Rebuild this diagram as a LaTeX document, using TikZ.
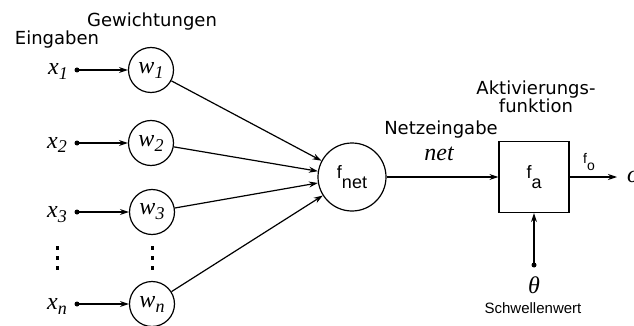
\documentclass[tikz,border=0pt]{standalone}
\usepackage{fontspec}
\setmainfont{DejaVu Sans}
\newfontfamily\serifit{Liberation Serif}
\newfontfamily\arialfont{Liberation Sans}
\usetikzlibrary{arrows.meta}

% italic serif symbol with lowered index
\newcommand{\symidx}[2]{{\serifit\itshape\fontsize{24}{24}\selectfont #1\raisebox{-5pt}{\fontsize{18}{18}\selectfont #2}}}

\begin{document}
\begin{tikzpicture}[x=1pt,y=-1pt]
        % Define styles
        \tikzset{
            weight/.style={circle, draw, line width=1.2pt, minimum size=45pt, inner sep=0pt},
            sumnode/.style={circle, draw, line width=1.2pt, minimum size=68pt, inner sep=0pt},
            actbox/.style={rectangle, draw, line width=1.2pt, minimum width=70pt, minimum height=71pt, inner sep=0pt},
            dot/.style={circle, fill, inner sep=0pt, minimum size=5pt},
            txt/.style={anchor=base, inner sep=0pt, font=\fontsize{18}{18}\selectfont},
            small/.style={anchor=base, inner sep=0pt, font=\arialfont\fontsize{15}{15}\selectfont},
            arrow/.style={->, >={Stealth[length=9pt,width=6pt]}, line width=1.2pt}
        }
        \useasboundingbox (0,0) rectangle (634,326);

        % Headings
        \node[txt] (inputs) at (57,45) {Eingaben};
        \node[txt] (weights) at (152,27) {Gewichtungen};

        % Inputs and weights
        \node[anchor=base, inner sep=0pt] (x1) at (58,75) {\symidx{x}{1}};
        \node[dot] (d1) at (77,70) {};
        \node[weight] (w1) at (151,70) {\symidx{w}{1}};

        \node[anchor=base, inner sep=0pt] (x2) at (57,148) {\symidx{x}{2}};
        \node[dot] (d2) at (77,143) {};
        \node[weight] (w2) at (151,143) {\symidx{w}{2}};

        \node[anchor=base, inner sep=0pt] (x3) at (57,217) {\symidx{x}{3}};
        \node[dot] (d3) at (77,212) {};
        \node[weight] (w3) at (152,212) {\symidx{w}{3}};

        \node[anchor=base, inner sep=0pt] (xn) at (57,309) {\symidx{x}{n}};
        \node[dot] (dn) at (77,304) {};
        \node[weight] (wn) at (152,304) {\symidx{w}{n}};

        % Ellipsis dots
        \foreach \y in {248,258,268} {
            \fill (55.5,\y-1.8) rectangle ++(3.6,3.6);
            \fill (150.5,\y-1.8) rectangle ++(3.6,3.6);
        }

        % Net input and activation
        \node[sumnode] (fnet) at (352,177) {\arialfont\fontsize{18}{18}\selectfont f\raisebox{-10pt}{net}};
        \node[actbox] (fa) at (534,177) {\arialfont\fontsize{18}{18}\selectfont f\raisebox{-10pt}{a}};

        \node[txt] (netin) at (441,135) {Netzeingabe};
        \node[anchor=base, inner sep=0pt] (net) at (439,160) {\serifit\itshape\fontsize{24}{24}\selectfont net};
        \node[txt, align=center] (act) at (536,113) {Aktivierungs-\\funktion};
        \node[anchor=base, inner sep=0pt] (fo) at (589,163) {\arialfont\fontsize{14}{14}\selectfont f\raisebox{-7pt}{o}};
        \node[anchor=west, inner sep=10pt] (out) at (617,177) {\serifit\itshape\fontsize{24}{24}\selectfont o};

        % Threshold
        \node[dot] (dth) at (534,265) {};
        \node[anchor=base, inner sep=0pt] (theta) at (534,293) {\serifit\itshape\fontsize{24}{24}\selectfont θ};
        \node[small] (thr) at (533,313) {Schwellenwert};

        % Arrows
        \draw[arrow] (d1.center) -- (w1);
        \draw[arrow] (d2.center) -- (w2);
        \draw[arrow] (d3.center) -- (w3);
        \draw[arrow] (dn.center) -- (wn);
        \draw[arrow] (w1) -- (fnet);
        \draw[arrow] (w2) -- (fnet);
        \draw[arrow] (w3) -- (fnet);
        \draw[arrow] (wn) -- (fnet);
        \draw[arrow] (fnet) -- (fa);
        \draw[arrow] (fa) -- (out);
        \draw[arrow] (dth.center) -- (fa);
    \end{tikzpicture}
\end{document}
